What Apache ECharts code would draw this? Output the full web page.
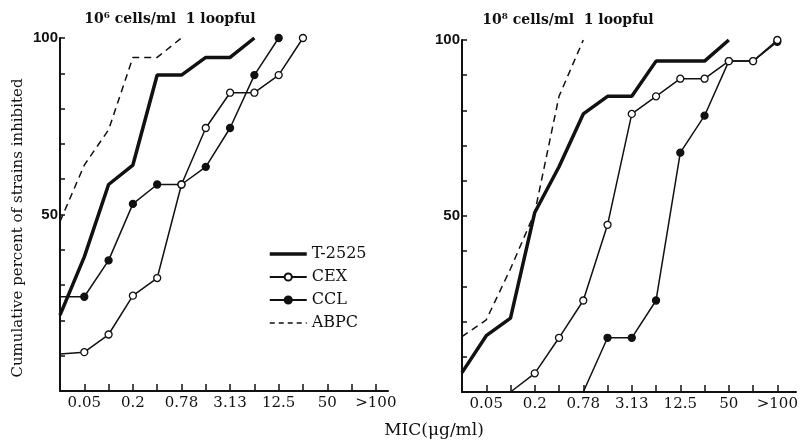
<!DOCTYPE html>
<html>
<head>
<meta charset="utf-8">
<script src="https://cdn.jsdelivr.net/npm/echarts@6/dist/echarts.min.js"></script>
<style>
  html, body { margin: 0; padding: 0; background: #fff; }
  #chart { width: 802px; height: 444px; }
</style>
</head>
<body>
<div id="chart"></div>
<script>
// MIC dilution steps; index 0 is the axis origin
const micSteps = ['', '0.05', '0.1', '0.2', '0.39', '0.78', '1.56', '3.13', '6.25', '12.5', '25', '50', '100', '>100'];
const micShown = [1, 3, 5, 7, 9, 11, 13];
const pctShown = [50, 100];

// cumulative % inhibited, indexed by dilution step (null = not drawn)
const t2525Left = [21.5, 38, 58.5, 64, 89.5, 89.5, 94.5, 94.5, 100];
const cexLeft   = [10.5, 11, 16, 27, 32, 58.5, 74.5, 84.5, 84.5, 89.5, 100];
const cclLeft   = [26.7, 26.7, 37, 53, 58.5, 58.5, 63.5, 74.5, 89.5, 100];
const abpcLeft  = [48, 64, 74, 94.5, 94.5, 100];

const t2525Right = [5.5, 16, 21, 51, 64, 79, 84, 84, 94, 94, 94, 100];
const cexRight   = [null, null, 0, 5.3, 15.4, 26, 47.5, 79, 84, 89, 89, 94, 94, 100];
const cclRight   = [null, null, null, null, null, 0, 15.4, 15.4, 26, 68, 78.5, 94, 94, 99.5];
const abpcRight  = [15.7, 20.5, 35, 51, 84, 100];

const ink = '#111';
const serif = '"DejaVu Serif", serif';

const chart = echarts.init(document.getElementById('chart'));

// first drawn point sits on an axis, so it gets no marker
const toPoints = (arr) => {
  const first = arr.findIndex((v) => v !== null);
  return arr.map((v, i) => {
    if (v === null) return [i, null];
    return i === first ? { value: [i, v], symbol: 'none' } : [i, v];
  });
};

const makeSeries = (name, arr, idx) => {
  const base = {
    name,
    type: 'line',
    xAxisIndex: idx,
    yAxisIndex: idx,
    data: toPoints(arr),
    clip: false,
    animation: false,
    connectNulls: false,
  };
  if (name === 'T-2525') {
    return { ...base, symbol: 'none', lineStyle: { color: ink, width: 3.5 }, itemStyle: { color: ink }, z: 3 };
  }
  if (name === 'ABPC') {
    return { ...base, symbol: 'none', lineStyle: { color: ink, width: 1.5, type: [7, 5] }, itemStyle: { color: ink } };
  }
  const open = name === 'CEX';
  return {
    ...base,
    symbol: 'circle',
    symbolSize: 7,
    lineStyle: { color: ink, width: 1.5 },
    itemStyle: { color: open ? '#fff' : ink, borderColor: ink, borderWidth: 1.3 },
    z: open ? 5 : 4,
  };
};

const xAxisFor = (idx, max) => ({
  type: 'value',
  gridIndex: idx,
  min: 0,
  max,
  interval: 1,
  axisLine: { show: true, lineStyle: { color: ink, width: 2 } },
  axisTick: {
    show: true,
    inside: true,
    length: 7,
    customValues: micSteps.map((_, i) => i).slice(1),
    lineStyle: { color: ink, width: 1.5 },
  },
  axisLabel: {
    show: true,
    customValues: micShown,
    formatter: (v) => micSteps[v] || '',
    color: ink,
    fontFamily: serif,
    fontSize: 15,
    margin: 5,
  },
  splitLine: { show: false },
});

const yAxisFor = (idx) => ({
  type: 'value',
  gridIndex: idx,
  min: 0,
  max: 100,
  interval: 10,
  axisLine: { show: true, lineStyle: { color: ink, width: 2 } },
  axisTick: { show: true, inside: true, length: 5, lineStyle: { color: ink, width: 1.5 } },
  axisLabel: {
    show: true,
    formatter: (v) => (pctShown.includes(v) ? String(v) : ''),
    color: ink,
    fontFamily: '"Liberation Sans", sans-serif',
    fontWeight: 'bold',
    fontSize: 15,
    margin: 2,
  },
  splitLine: { show: false },
});

const hideMarker = { opacity: 0 };

const option = {
  backgroundColor: '#fff',
  animation: false,
  grid: [
    { left: 60, top: 38, width: 328, height: 353, outerBoundsMode: 'none' },
    { left: 462, top: 40, width: 334, height: 352, outerBoundsMode: 'none' },
  ],
  xAxis: [xAxisFor(0, 13.5), xAxisFor(1, 13.77)],
  yAxis: [yAxisFor(0), yAxisFor(1)],
  legend: {
    left: 268,
    top: 246,
    padding: 0,
    orient: 'vertical',
    itemWidth: 37,
    itemHeight: 9,
    itemGap: 7,
    data: [
      { name: 'T-2525', itemStyle: hideMarker, lineStyle: { color: ink, width: 3.5 } },
      { name: 'CEX' },
      { name: 'CCL' },
      { name: 'ABPC', itemStyle: hideMarker, lineStyle: { color: ink, width: 1.5, type: [5, 4] } },
    ],
    textStyle: { color: ink, fontFamily: serif, fontSize: 16 },
    selectedMode: false,
  },
  graphic: [
    {
      type: 'text', x: 170, y: 19,
      style: { text: '10⁶ cells/ml  1 loopful', fill: ink, font: 'bold 14px "DejaVu Serif", serif', align: 'center', verticalAlign: 'middle' },
    },
    {
      type: 'text', x: 568, y: 20,
      style: { text: '10⁸ cells/ml  1 loopful', fill: ink, font: 'bold 14px "DejaVu Serif", serif', align: 'center', verticalAlign: 'middle' },
    },
    {
      type: 'text', x: 18, y: 228, rotation: Math.PI / 2,
      style: { text: 'Cumulative percent of strains inhibited', fill: ink, font: '15px "DejaVu Serif", serif', align: 'center', verticalAlign: 'middle' },
    },
    {
      type: 'text', x: 434, y: 431,
      style: { text: 'MIC(μg/ml)', fill: ink, font: '17px "DejaVu Serif", serif', align: 'center', verticalAlign: 'middle' },
    },
  ],
  series: [
    makeSeries('T-2525', t2525Left, 0),
    makeSeries('CEX', cexLeft, 0),
    makeSeries('CCL', cclLeft, 0),
    makeSeries('ABPC', abpcLeft, 0),
    makeSeries('T-2525', t2525Right, 1),
    makeSeries('CEX', cexRight, 1),
    makeSeries('CCL', cclRight, 1),
    makeSeries('ABPC', abpcRight, 1),
  ],
};

chart.setOption(option);
</script>
</body>
</html>
